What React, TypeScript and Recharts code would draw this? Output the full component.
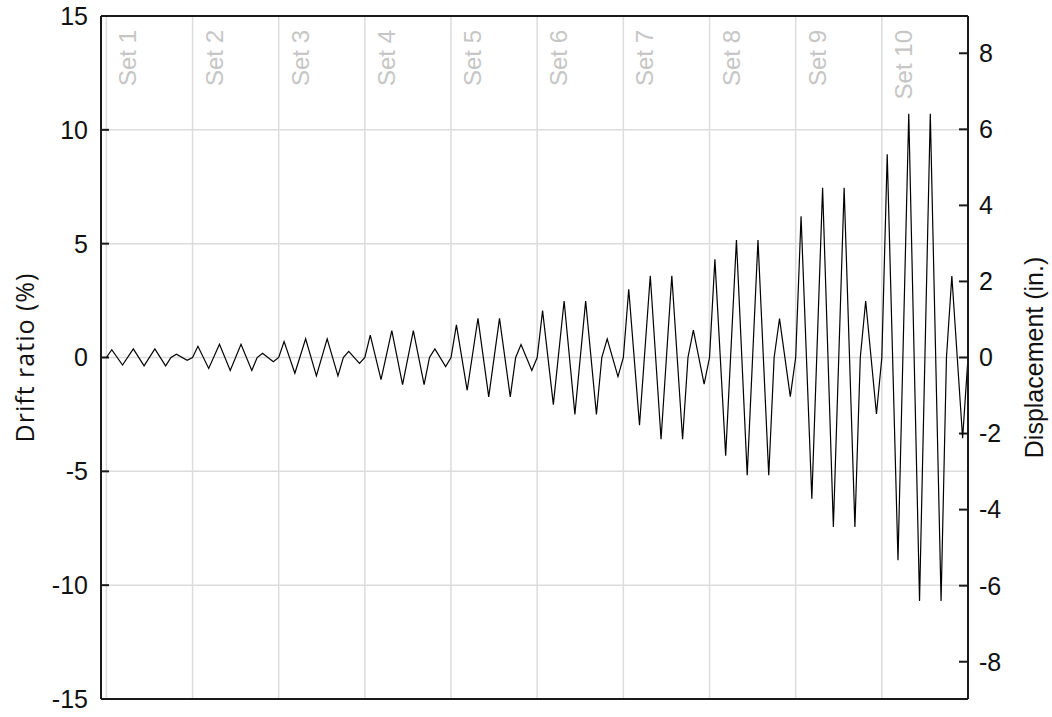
import React from "react";
import { LineChart, Line, XAxis, YAxis, CartesianGrid, ReferenceLine } from "recharts";

// offsets (in quarter-cycle units) of the turning points inside one set
const STEP = [0, 1, 3, 5, 7, 9, 11, 12, 13, 15];
const SET_LENGTH = 16;

const SET_NAMES = ["Set 1", "Set 2", "Set 3", "Set 4", "Set 5", "Set 6", "Set 7", "Set 8", "Set 9", "Set 10"];

// drift ratio (%) at each turning point
const set1 = [0, 0.34, -0.33, 0.38, -0.37, 0.38, -0.37, 0, 0.14, -0.12];
const set2 = [0, 0.49, -0.48, 0.58, -0.57, 0.58, -0.57, 0, 0.19, -0.19];
const set3 = [0, 0.7, -0.69, 0.82, -0.81, 0.82, -0.81, 0, 0.27, -0.26];
const set4 = [0, 0.98, -0.97, 1.18, -1.19, 1.18, -1.19, 0, 0.38, -0.4];
const set5 = [0, 1.43, -1.44, 1.72, -1.73, 1.72, -1.73, 0, 0.57, -0.57];
const set6 = [0, 2.06, -2.07, 2.48, -2.5, 2.48, -2.5, 0, 0.82, -0.84];
const set7 = [0, 3.0, -2.97, 3.59, -3.59, 3.59, -3.59, 0, 1.2, -1.17];
const set8 = [0, 4.31, -4.31, 5.16, -5.17, 5.16, -5.17, 0, 1.71, -1.72];
const set9 = [0, 6.2, -6.2, 7.45, -7.44, 7.45, -7.44, 0, 2.48, -2.48];
const set10 = [0, 8.93, -8.91, 10.71, -10.69, 10.71, -10.69, 0, 3.58, -3.55];
const SETS = [set1, set2, set3, set4, set5, set6, set7, set8, set9, set10];

const DRIFT_TICKS = [-15, -10, -5, 0, 5, 10, 15];
const DISP_TICKS = [-8, -6, -4, -2, 0, 2, 4, 6, 8];

const data: { t: number; drift: number }[] = [];
SETS.forEach((vals, s) => {
  vals.forEach((v, k) => data.push({ t: s * SET_LENGTH + STEP[k], drift: v }));
});
data.push({ t: SETS.length * SET_LENGTH, drift: 0 });

const X_MIN = -1;
const X_MAX = SETS.length * SET_LENGTH;
const PX_PER_UNIT = 867 / (X_MAX - X_MIN);

const FONT = "'Liberation Sans', Arial, Helvetica, sans-serif";
const AXIS = "#1a1a1a";
const GRID = "#dcdcdc";

const SetLabel = (props: any) => {
  const { viewBox, text } = props;
  if (!viewBox) return null;
  const bx = viewBox.x + 21.6;
  const by = viewBox.y + 14;
  return (
    <text
      transform={`translate(${bx},${by}) rotate(-90)`}
      textAnchor="end"
      dy="0.35em"
      fontSize={24}
      fontFamily={FONT}
      fill="#c6c6c6"
    >
      {text}
    </text>
  );
};

const LeftTitle = (props: any) => {
  const { viewBox } = props;
  const cy = viewBox.y + viewBox.height / 2;
  return (
    <text
      transform={`translate(25,${cy}) rotate(-90)`}
      textAnchor="middle"
      dy="0.35em"
      fontSize={25}
      letterSpacing={1}
      fontFamily="'Open Sans', 'Noto Sans', sans-serif"
      fill="#111"
    >
      Drift ratio (%)
    </text>
  );
};

const RightTitle = (props: any) => {
  const { viewBox } = props;
  const cy = viewBox.y + viewBox.height / 2;
  return (
    <text
      transform={`translate(1034,${cy}) rotate(-90)`}
      textAnchor="middle"
      dy="0.35em"
      fontSize={25}
      fontFamily={FONT}
      fill="#111"
    >
      Displacement (in.)
    </text>
  );
};

const tickStyle = { fontSize: 25, fontFamily: FONT, fill: "#111" };

export default function App() {
  return (
    <div style={{ position: "absolute", left: 0, top: 0 }}>
      <LineChart width={1052} height={717} data={data} margin={{ top: 16, right: 0, bottom: 18, left: 0 }}>
        <CartesianGrid yAxisId="drift" vertical={false} stroke={GRID} strokeWidth={1.5} />
        <XAxis dataKey="t" type="number" domain={[X_MIN, X_MAX]} allowDataOverflow hide />
        <YAxis
          yAxisId="drift"
          orientation="left"
          width={101}
          domain={[-15, 15]}
          allowDataOverflow
          ticks={DRIFT_TICKS}
          interval={0}
          tickSize={0}
          tickMargin={13}
          tickLine={false}
          axisLine={{ stroke: AXIS, strokeWidth: 2 }}
          tick={tickStyle}
          label={<LeftTitle />}
        />
        <YAxis
          yAxisId="disp"
          orientation="right"
          width={84}
          type="number"
          domain={[-8.98, 8.98]}
          allowDataOverflow
          ticks={DISP_TICKS}
          interval={0}
          tickSize={0}
          tickMargin={11}
          tickLine={false}
          axisLine={{ stroke: AXIS, strokeWidth: 2 }}
          tick={tickStyle}
          label={<RightTitle />}
        />
        {SET_NAMES.map((name, i) => (
          <ReferenceLine
            key={name}
            yAxisId="drift"
            x={i * SET_LENGTH}
            stroke={GRID}
            strokeWidth={1.5}
            label={<SetLabel text={name} />}
          />
        ))}
        <ReferenceLine yAxisId="drift" y={15} stroke={AXIS} strokeWidth={2} />
        <ReferenceLine yAxisId="drift" y={-15} stroke={AXIS} strokeWidth={2} />
        {DRIFT_TICKS.map((v) => (
          <ReferenceLine
            key={`lt${v}`}
            yAxisId="drift"
            ifOverflow="visible"
            segment={[
              { x: X_MIN, y: v },
              { x: X_MIN + 8 / PX_PER_UNIT, y: v },
            ]}
            stroke={AXIS}
            strokeWidth={2}
          />
        ))}
        {DISP_TICKS.map((v) => (
          <ReferenceLine
            key={`rt${v}`}
            yAxisId="disp"
            ifOverflow="visible"
            segment={[
              { x: X_MAX - 9 / PX_PER_UNIT, y: v },
              { x: X_MAX, y: v },
            ]}
            stroke={AXIS}
            strokeWidth={2}
          />
        ))}
        <Line
          yAxisId="drift"
          type="linear"
          dataKey="drift"
          stroke="#000"
          strokeWidth={1.2}
          dot={false}
          isAnimationActive={false}
        />
      </LineChart>
    </div>
  );
}
